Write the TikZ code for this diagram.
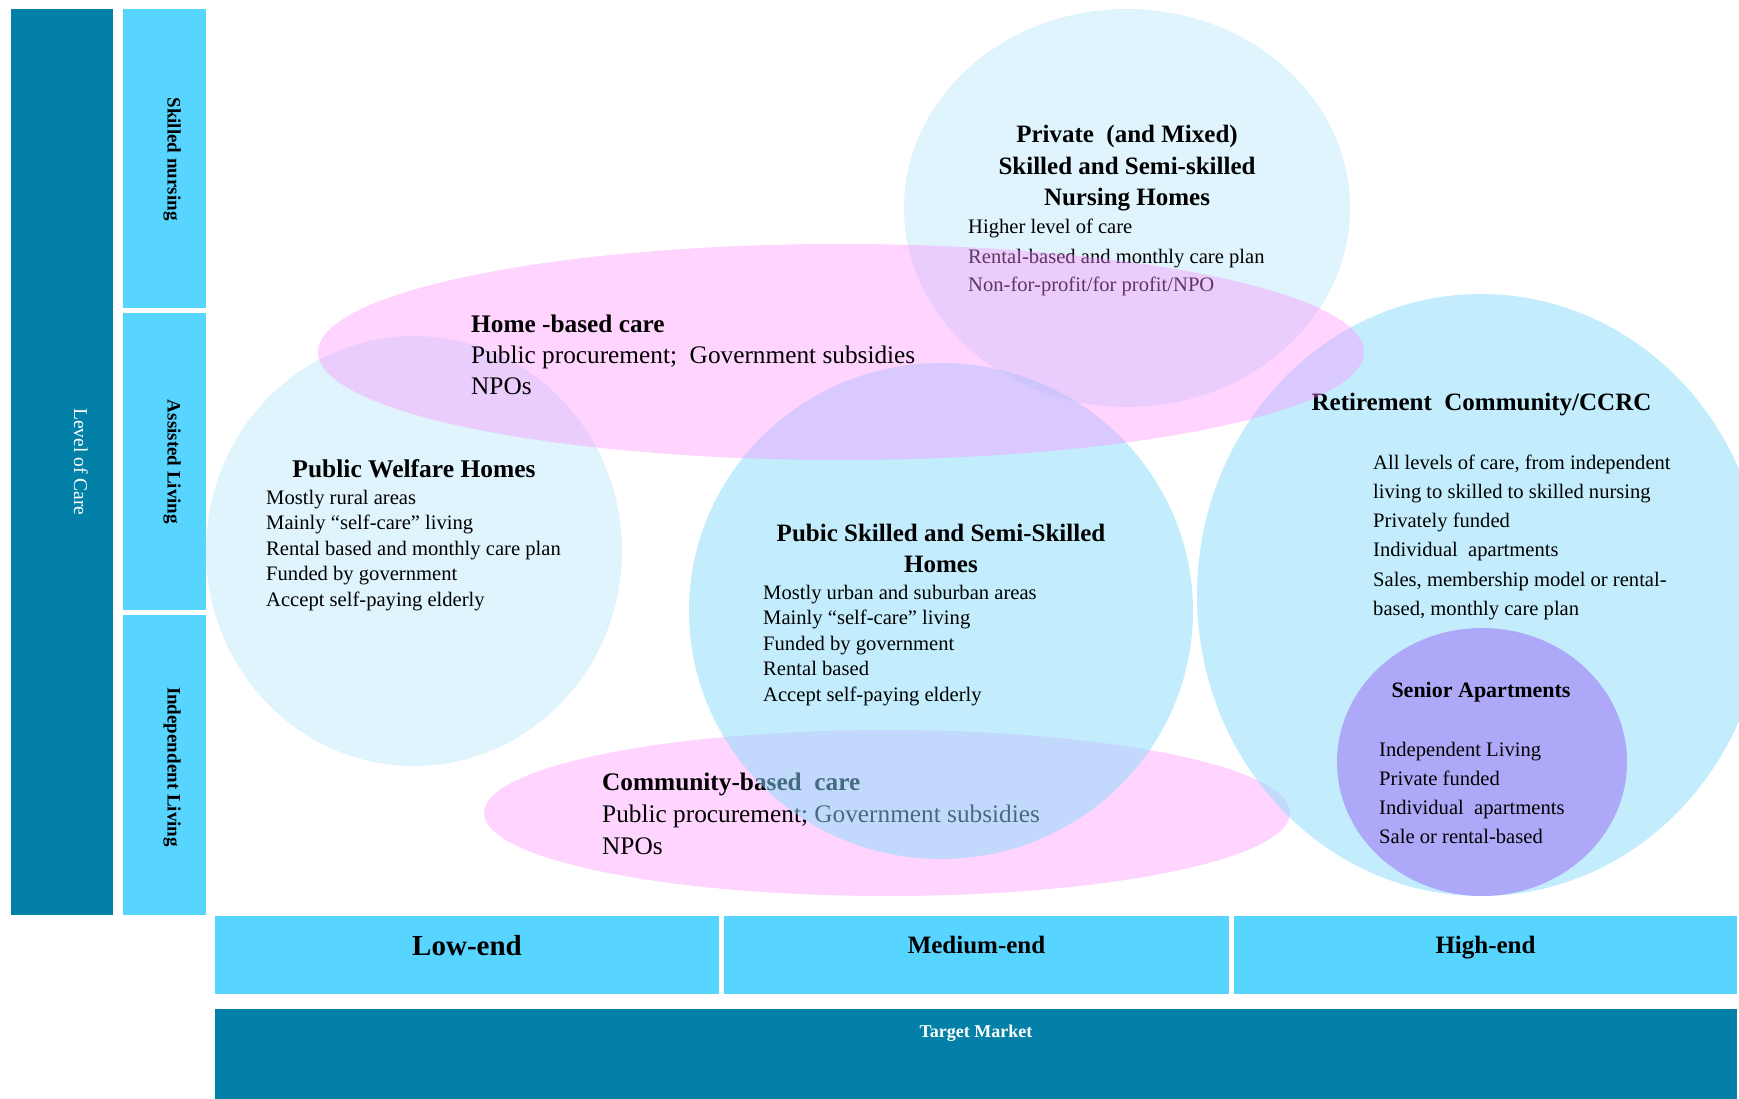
\documentclass[tikz,border=0pt]{standalone}
\usepackage{fontspec}
\setmainfont{Liberation Serif}
\usetikzlibrary{shapes.geometric}
\definecolor{dk}{HTML}{0380A8}
\definecolor{lt}{HTML}{57D5FF}
\definecolor{paleblue}{HTML}{DFF4FD}
\definecolor{pinkc}{RGB}{255,143,255}
\definecolor{bluec}{RGB}{135,219,251}
\definecolor{seniorc}{HTML}{ADA9F8}
\newcommand{\lblk}[1]{\begin{tabular}[t]{@{}l@{}}#1\end{tabular}}
\newcommand{\cblk}[1]{\begin{tabular}[t]{@{}c@{}}#1\end{tabular}}
\begin{document}
\begin{tikzpicture}[x=1pt,y=-1pt,
  blob/.style={ellipse, inner sep=0pt, draw=none},
  head/.style={inner sep=0pt, anchor=base, font=\fontsize{25}{31.5}\selectfont\bfseries},
  bodyt/.style={inner sep=0pt, anchor=base west, font=\fontsize{20.6}{25.5}\selectfont},
  sidelab/.style={inner sep=0pt, rotate=-90, font=\fontsize{19}{22}\selectfont\bfseries},
  botlab/.style={inner sep=0pt, anchor=base, font=\fontsize{25}{30}\selectfont\bfseries}]
\useasboundingbox (0,0) rectangle (1739,1099);
% bars
\fill[dk] (11,9) rectangle (113,915);
\fill[lt] (123,9) rectangle (206,308);
\fill[lt] (123,313) rectangle (206,610);
\fill[lt] (123,615) rectangle (206,915);
\fill[lt] (215,916) rectangle (719,994);
\fill[lt] (724,916) rectangle (1229,994);
\fill[lt] (1234,916) rectangle (1737,994);
\fill[dk] (215,1009) rectangle (1737,1099);
\node[inner sep=0pt, rotate=-90, text=white, font=\fontsize{19.5}{22}\selectfont] (loc) at (81,462) {Level of Care};
\node[sidelab] (skn) at (172,159) {Skilled nursing};
\node[sidelab] (asl) at (172,462) {Assisted Living};
\node[sidelab] (inl) at (172,767) {Independent Living};
\node[botlab, font=\fontsize{29}{34}\selectfont\bfseries] (low) at (467,955) {Low-end};
\node[botlab] (med) at (976.5,953) {Medium-end};
\node[botlab] (high) at (1485.5,953) {High-end};
\node[inner sep=0pt, anchor=base, text=white, font=\fontsize{18}{22}\selectfont\bfseries] (tm) at (976,1037) {Target Market};
% private nursing homes
\node[blob, fill=paleblue, minimum width=446pt, minimum height=398pt] (priv) at (1127,208) {};
\node[head] (privh) at (1127,143) {\cblk{Private\ \ (and Mixed)\\ Skilled and Semi-skilled\\ Nursing Homes}};
\node[bodyt, font=\fontsize{20.6}{29}\selectfont] (privb) at (968,234) {\lblk{Higher level of care\\ Rental-based and monthly care plan\\ Non-for-profit/for profit/NPO}};
% public welfare homes
\node[blob, fill=paleblue, minimum width=416pt, minimum height=430pt] (welf) at (414,551) {};
\node[head, font=\fontsize{25.5}{31.5}\selectfont\bfseries] (welfh) at (414,477) {Public Welfare Homes};
\node[bodyt] (welfb) at (266,504) {\lblk{Mostly rural areas\\ Mainly “self-care” living\\ Rental based and monthly care plan\\ Funded by government\\ Accept self-paying elderly}};
% community-based care
\node[blob, fill=pinkc, fill opacity=0.375, minimum width=806pt, minimum height=166pt] (comm) at (887,813) {};
\node[bodyt, font=\fontsize{25.3}{32}\selectfont] (commt) at (602,790) {\lblk{\textbf{Community-based\ \ care}\\ Public procurement; Government subsidies\\ NPOs}};
% public skilled homes
\node[blob, fill=bluec, fill opacity=0.5, minimum width=504pt, minimum height=496pt] (pub) at (941,611) {};
\node[head] (pubh) at (941,541) {\cblk{Pubic Skilled and Semi-Skilled\\ Homes}};
\node[bodyt] (pubb) at (763,599) {\lblk{Mostly urban and suburban areas\\ Mainly “self-care” living\\ Funded by government\\ Rental based\\ Accept self-paying elderly}};
% retirement community
\node[blob, fill=bluec, fill opacity=0.5, minimum width=568pt, minimum height=602pt] (ret) at (1481,595) {};
\node[head] (reth) at (1481.5,410) {Retirement\ \ Community/CCRC};
\node[bodyt, font=\fontsize{20.6}{29.3}\selectfont] (retb) at (1373,469) {\lblk{All levels of care, from independent\\ living to skilled to skilled nursing\\ Privately funded\\ Individual\ \ apartments\\ Sales, membership model or rental-\\ based, monthly care plan}};
\node[blob, fill=seniorc, minimum width=290pt, minimum height=268pt] (sen) at (1482,762) {};
\node[head, font=\fontsize{22}{26}\selectfont\bfseries] (senh) at (1481,697) {Senior Apartments};
\node[bodyt, font=\fontsize{20.6}{29}\selectfont] (senb) at (1379,756) {\lblk{Independent Living\\ Private funded\\ Individual\ \ apartments\\ Sale or rental-based}};
% home-based care
\node[blob, fill=pinkc, fill opacity=0.375, minimum width=1046pt, minimum height=216pt] (home) at (841,352) {};
\node[bodyt, font=\fontsize{25.3}{31}\selectfont] (homet) at (471,332) {\lblk{\textbf{Home -based care}\\ Public procurement;\ \ Government subsidies\\ NPOs}};
\end{tikzpicture}
\end{document}
